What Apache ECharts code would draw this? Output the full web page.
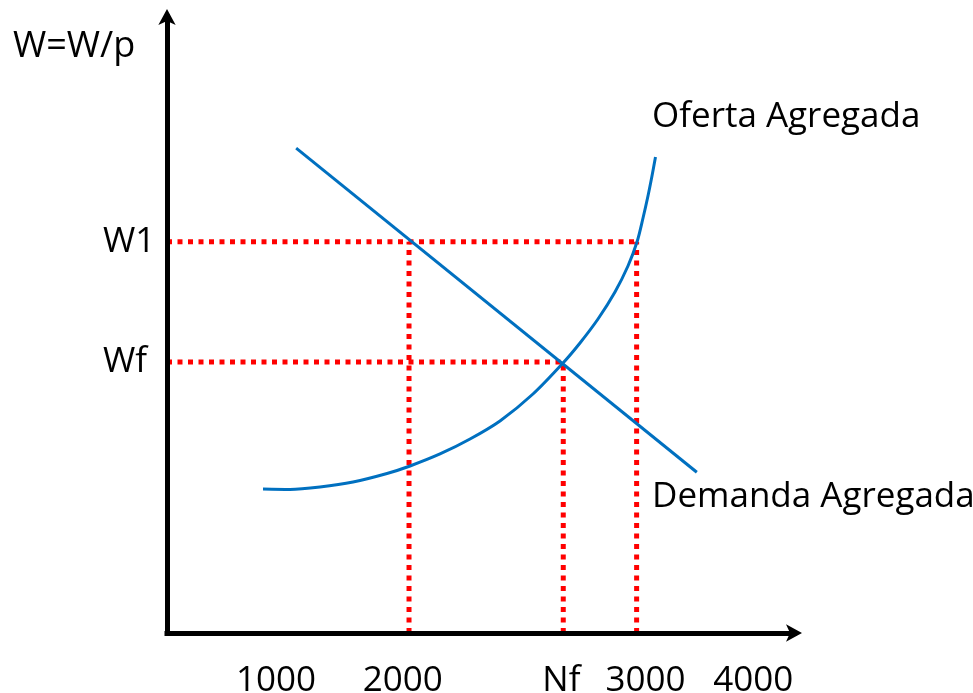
<!DOCTYPE html>
<html>
<head>
<meta charset="utf-8">
<script src="https://cdn.jsdelivr.net/npm/echarts@6/dist/echarts.min.js"></script>
<style>
  html, body { margin: 0; padding: 0; background: #ffffff; }
  #main { width: 973px; height: 693px; }
</style>
</head>
<body>
<div id="main"></div>
<script>
  // axis units: 0..100 on both axes (conceptual diagram, no real scale)
  var xTickPos = [17.4, 37.6, 62.9, 76.3, 93.5];
  var xTickLabels = ['1000', '2000', 'Nf', '3000', '4000'];
  var yTickPos = [63.5, 44.0];
  var yTickLabels = ['W1', 'Wf'];

  // quantities where the dotted guides drop to the axis
  var q2000 = 38.6, qNf = 63.2, q3000 = 74.9;
  var levelW1 = 63.5, levelWf = 44.0;

  var demanda = [[20.6, 78.7], [84.5, 26.1]];
  var oferta = [
    [15.31, 23.38], [19.62, 23.30], [24.40, 23.70], [29.67, 24.51], [35.09, 25.89],
    [38.76, 27.11], [43.54, 29.06], [48.33, 31.49], [53.11, 34.42], [58.37, 38.80],
    [63.16, 43.83], [65.87, 47.08], [68.74, 50.97], [71.45, 55.36], [73.52, 59.58],
    [74.96, 63.47], [75.92, 67.37], [76.71, 70.94], [77.35, 74.19], [77.91, 77.27]
  ];

  var guias = [
    [[0, levelW1], [q3000, levelW1]],
    [[0, levelWf], [qNf, levelWf]],
    [[q2000, 0], [q2000, levelW1]],
    [[qNf, 0], [qNf, levelWf]],
    [[q3000, 0], [q3000, levelW1]]
  ];

  var fonte = '"Open Sans", sans-serif';
  var chart = echarts.init(document.getElementById('main'));

  var series = [];
  guias.forEach(function (seg) {
    series.push({
      type: 'line',
      data: seg,
      symbol: 'none',
      silent: true,
      z: 2,
      lineStyle: { color: '#ff0000', width: 5, type: [5, 5.5], cap: 'butt' }
    });
  });
  series.push({
    name: 'Demanda Agregada',
    type: 'line',
    data: demanda,
    symbol: 'none',
    z: 3,
    lineStyle: { color: '#0070c0', width: 3 }
  });
  series.push({
    name: 'Oferta Agregada',
    type: 'line',
    data: oferta,
    smooth: 0.3,
    symbol: 'none',
    z: 3,
    lineStyle: { color: '#0070c0', width: 3 }
  });

  var eixo = {
    onZero: false,
    symbol: ['none', 'arrow'],
    symbolSize: [13, 16],
    symbolOffset: [0, 8],
    lineStyle: { color: '#000', width: 5, cap: 'square' }
  };

  var option = {
    animation: false,
    backgroundColor: '#ffffff',
    grid: { left: 167, right: 179, top: 17, bottom: 60, containLabel: false, outerBoundsMode: 'none' },
    xAxis: {
      type: 'value',
      min: 0,
      max: 100,
      z: 5,
      splitLine: { show: false },
      axisTick: { show: false },
      axisLine: eixo,
      axisLabel: {
        customValues: xTickPos,
        margin: 31,
        color: '#000',
        fontFamily: fonte,
        fontSize: 35,
        formatter: function (v) {
          var i = xTickPos.indexOf(v);
          return i >= 0 ? xTickLabels[i] : '';
        }
      }
    },
    yAxis: {
      type: 'value',
      min: 0,
      max: 100,
      z: 5,
      splitLine: { show: false },
      axisTick: { show: false },
      axisLine: eixo,
      axisLabel: {
        customValues: yTickPos,
        margin: 64,
        align: 'left',
        color: '#000',
        fontFamily: fonte,
        fontSize: 35,
        formatter: function (v) {
          var i = yTickPos.indexOf(v);
          return i >= 0 ? yTickLabels[i] : '';
        }
      }
    },
    graphic: [
      { type: 'text', left: 13, top: 29, style: { text: 'W=W/p', fill: '#000', font: '36px ' + fonte } },
      { type: 'text', left: 652, top: 100, style: { text: 'Oferta Agregada', fill: '#000', font: '35px ' + fonte } },
      { type: 'text', left: 652, top: 480, style: { text: 'Demanda Agregada', fill: '#000', font: '35px ' + fonte } }
    ],
    series: series
  };
  chart.setOption(option);
</script>
</body>
</html>
